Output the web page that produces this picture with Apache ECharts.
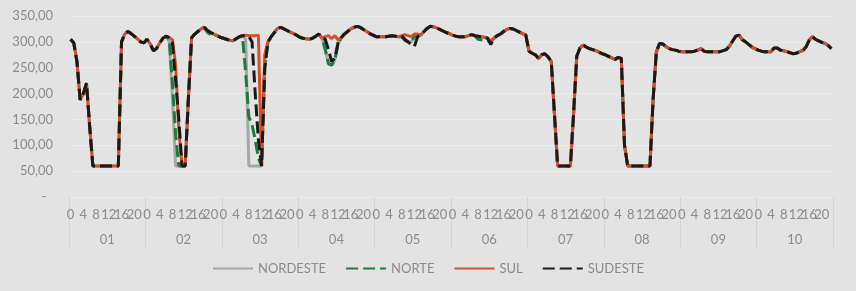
<!DOCTYPE html>
<html>
<head>
<meta charset="utf-8">
<script src="https://cdn.jsdelivr.net/npm/echarts@6/dist/echarts.min.js"></script>
<style>
  html, body { margin: 0; padding: 0; background: #e3e3e3; }
  #chart { width: 856px; height: 291px; }
</style>
</head>
<body>
<div id="chart"></div>
<script>
// ---- Data ----
const days = ['01', '02', '03', '04', '05', '06', '07', '08', '09', '10'];
const hours = ['0','1','2','3','4','5','6','7','8','9','10','11','12','13','14','15','16','17','18','19','20','21','22','23'];
const hourTickLabels = ['0', '4', '8', '12', '16', '20'];
const seriesNames = ['NORDESTE', 'NORTE', 'SUL', 'SUDESTE'];
const yTicks = [0, 50, 100, 150, 200, 250, 300, 350];

const nordeste = [
  305,298,262,188,200,220,136,60,60,60,60,60,60,60,60,60,300,315,320,316,311,306,300,298,
  305,296,283,287,298,307,311,300,190,60,60,60,60,190,308,315,320,325,328,322,318,315,312,309,
  307,305,303,302,306,310,312,305,60,60,60,60,60,275,300,310,318,326,328,325,322,319,316,313,
  309,307,306,305,307,311,315,307,285,258,255,265,295,308,315,320,325,328,330,328,324,320,316,313,
  310,310,310,310,311,312,311,310,310,303,300,300,310,314,313,320,326,330,329,327,324,321,318,316,
  313,311,310,310,310,312,314,312,311,310,309,307,302,307,312,315,320,324,326,325,322,319,316,313,
  282,278,275,268,275,277,271,262,160,60,60,60,60,60,160,272,288,294,290,287,285,283,280,277,
  275,272,269,266,270,268,100,60,60,60,60,60,60,60,60,190,280,297,296,291,287,285,284,282,
  281,281,281,281,282,284,287,282,281,281,281,281,281,283,285,292,302,311,313,304,300,295,290,287,
  284,282,281,281,281,288,288,284,283,281,279,277,278,281,283,290,303,310,305,302,299,297,293,287
];
const norte = [
  305,298,262,188,200,220,136,60,60,60,60,60,60,60,60,60,300,315,320,316,311,306,300,298,
  305,296,283,287,298,307,311,305,220,120,60,60,60,190,308,315,320,325,328,318,314,315,312,309,
  307,305,303,302,306,310,310,240,155,140,110,75,60,250,300,310,318,326,328,325,322,319,316,313,
  309,307,306,305,307,311,315,307,285,258,255,265,295,308,315,320,325,328,330,328,324,320,316,313,
  310,310,310,310,311,312,311,310,310,303,300,300,310,314,313,320,326,330,329,327,324,321,318,316,
  313,311,310,310,310,312,314,312,305,304,303,302,300,307,312,315,320,324,326,325,322,319,316,313,
  282,278,275,268,275,277,271,262,160,60,60,60,60,60,160,272,288,294,290,287,285,283,280,277,
  275,272,269,266,270,268,100,60,60,60,60,60,60,60,60,190,280,297,296,291,287,285,284,282,
  281,281,281,281,282,284,287,282,281,281,281,281,281,283,285,292,302,311,313,304,300,295,290,287,
  284,282,281,281,281,288,288,284,283,281,279,277,278,281,283,290,303,310,305,302,299,297,293,287
];
const sul = [
  305,298,262,188,200,220,136,60,60,60,60,60,60,60,60,60,300,315,320,316,311,306,300,298,
  305,296,283,287,298,307,311,308,304,255,130,60,60,190,308,315,320,325,328,322,318,315,312,309,
  307,305,303,302,306,310,312,313,312,312,312,313,60,275,300,310,318,326,328,325,322,319,316,313,
  309,307,306,305,307,311,315,307,310,312,306,312,304,308,315,320,325,328,330,328,324,320,316,313,
  310,310,310,310,311,312,311,310,312,314,312,310,315,315,313,320,326,330,329,327,324,321,318,316,
  313,311,310,310,310,312,314,312,311,310,309,307,302,307,312,315,320,324,326,325,322,319,316,313,
  282,278,275,268,275,277,271,262,160,60,60,60,60,60,160,272,288,294,290,287,285,283,280,277,
  275,272,269,266,270,268,100,60,60,60,60,60,60,60,60,190,280,297,296,291,287,285,284,282,
  281,281,281,281,282,284,287,282,281,281,281,281,281,283,285,292,302,311,313,304,300,295,290,287,
  284,282,281,281,281,288,288,284,283,281,279,277,278,281,283,290,303,310,305,302,299,297,293,287
];
const sudeste = [
  305,298,262,188,200,220,136,60,60,60,60,60,60,60,60,60,300,315,320,316,311,306,300,298,
  305,296,283,287,298,307,311,308,298,225,150,60,60,190,308,315,320,325,328,322,318,315,312,309,
  307,305,303,302,306,310,312,312,310,300,200,110,60,250,300,310,318,326,328,325,322,319,316,313,
  309,307,306,305,307,311,315,307,305,285,262,268,298,308,315,320,325,328,330,328,324,320,316,313,
  310,310,310,310,311,312,311,310,312,305,300,295,291,310,313,320,326,330,329,327,324,321,318,316,
  313,311,310,310,310,312,314,312,311,310,309,307,295,307,312,315,320,324,326,325,322,319,316,313,
  282,278,275,268,275,277,271,262,160,60,60,60,60,60,160,272,288,294,290,287,285,283,280,277,
  275,272,269,266,270,268,100,60,60,60,60,60,60,60,60,190,280,297,296,291,287,285,284,282,
  281,281,281,281,282,284,287,282,281,281,281,281,281,283,285,292,302,311,313,304,300,295,290,287,
  284,282,281,281,281,288,288,284,283,281,279,277,278,281,283,290,303,310,305,302,299,297,293,287
];

// ---- Chart ----
const hourCats = [];
days.forEach(function (d) { hours.forEach(function (h) { hourCats.push(h); }); });

const FONT = 'Lato, "Open Sans", sans-serif';
const TXT = '#8c8c8c';

const chart = echarts.init(document.getElementById('chart'), null, { renderer: 'canvas' });
chart.setOption({
  animation: false,
  backgroundColor: '#e3e3e3',
  textStyle: { fontFamily: FONT },
  grid: { left: 69, right: 23, top: 16, bottom: 94, containLabel: false },
  legend: {
    data: seriesNames,
    bottom: 11,
    left: 'center',
    itemWidth: 40,
    itemHeight: 12,
    itemGap: 19,
    itemTextGap: 2,
    itemStyle: { opacity: 0 },
    textStyle: { color: TXT, fontSize: 13, fontFamily: FONT }
  },
  xAxis: [
    {
      type: 'category',
      data: hourCats,
      position: 'bottom',
      axisLine: { show: false },
      axisTick: { show: false },
      axisLabel: {
        interval: 0, hideOverlap: false,
        color: TXT, fontSize: 13, margin: 11, fontFamily: FONT,
        formatter: function (v) { return hourTickLabels.indexOf(v) >= 0 ? v : ''; }
      }
    },
    {
      type: 'category',
      data: days,
      position: 'bottom',
      offset: 0,
      axisLine: { show: false },
      axisTick: { show: true, interval: 0, length: 51, lineStyle: { color: '#d3d3d3', width: 1 } },
      axisLabel: { color: TXT, fontSize: 13, margin: 36, fontFamily: FONT }
    }
  ],
  yAxis: {
    type: 'value',
    min: yTicks[0],
    max: yTicks[yTicks.length - 1],
    interval: 50,
    axisLine: { show: false },
    axisTick: { show: false },
    splitLine: { lineStyle: { color: '#ebebeb', width: 1 } },
    axisLabel: {
      color: TXT, fontSize: 13, margin: 16, fontFamily: FONT,
      formatter: function (v) { return v === 0 ? '-  ' : v.toFixed(2).replace('.', ','); }
    }
  },
  series: [
    { name: 'NORDESTE', type: 'line', data: nordeste, symbol: 'none', xAxisIndex: 0,
      lineStyle: { color: '#a6a6a6', width: 3 }, itemStyle: { color: '#a6a6a6' } },
    { name: 'NORTE', type: 'line', data: norte, symbol: 'none', xAxisIndex: 0,
      lineStyle: { color: '#1f7a3e', width: 3, type: [12, 5] }, itemStyle: { color: '#1f7a3e' } },
    { name: 'SUL', type: 'line', data: sul, symbol: 'none', xAxisIndex: 0,
      lineStyle: { color: '#d4502b', width: 3 }, itemStyle: { color: '#d4502b' } },
    { name: 'SUDESTE', type: 'line', data: sudeste, symbol: 'none', xAxisIndex: 0,
      lineStyle: { color: '#1a1a1a', width: 3, type: [12, 5] }, itemStyle: { color: '#1a1a1a' } }
  ]
});
</script>
</body>
</html>
